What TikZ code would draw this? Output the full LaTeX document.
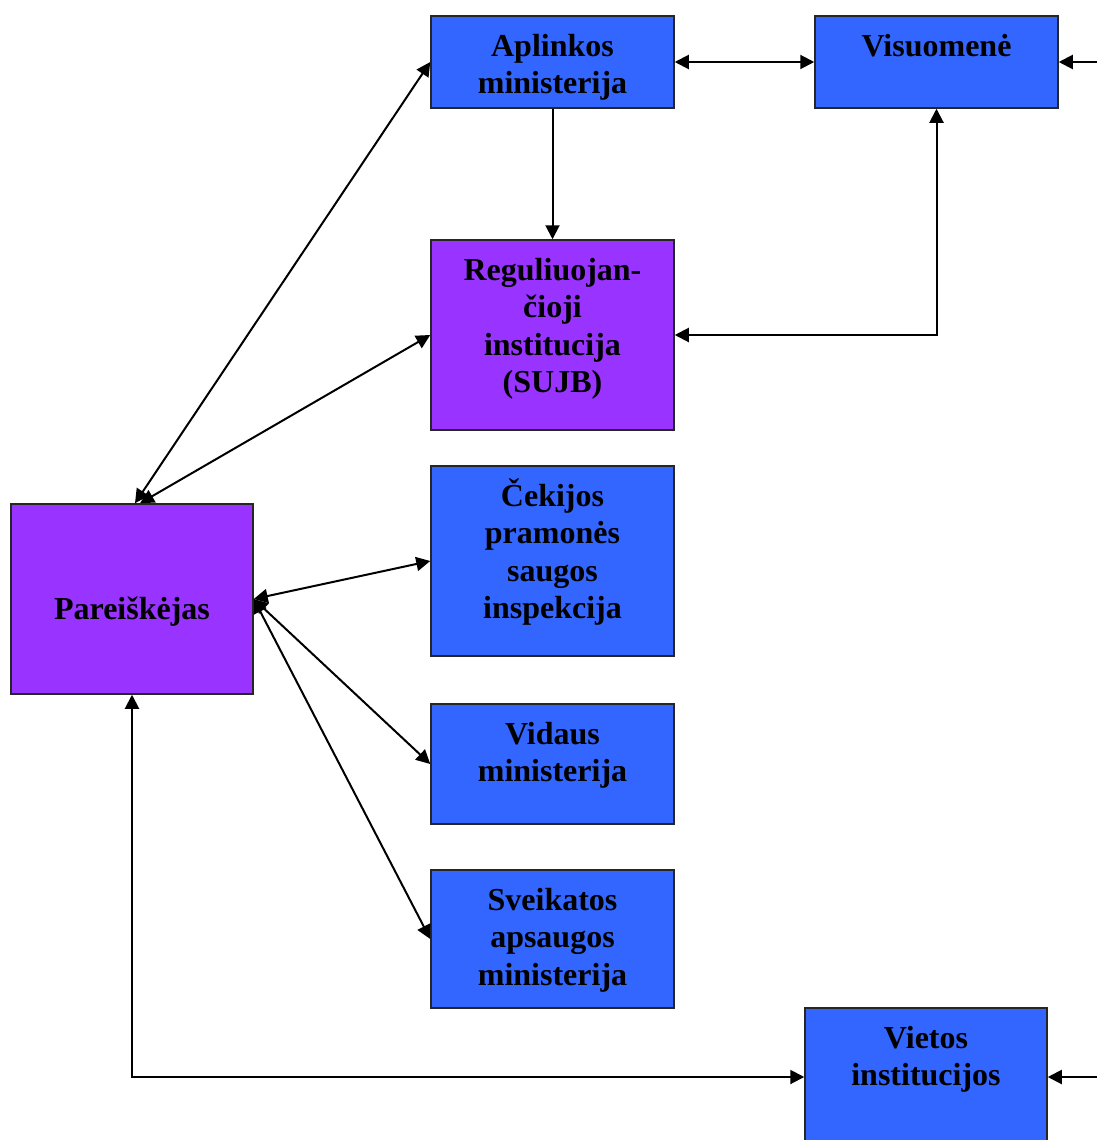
\documentclass[tikz,border=0pt]{standalone}
\usepackage{fontspec}
\setmainfont{Liberation Serif}
\usetikzlibrary{arrows.meta}
\definecolor{boxblue}{HTML}{3366FF}
\definecolor{boxpurple}{HTML}{9933FF}
\begin{document}
\begin{tikzpicture}[x=1pt,y=-1pt,
  box/.style={draw=black!85, line width=1.5pt, rectangle, inner sep=0pt, minimum width=243pt},
  bluebox/.style={box, fill=boxblue},
  purplebox/.style={box, fill=boxpurple},
  txt/.style={font=\fontsize{32}{37.5}\selectfont\bfseries, align=center, inner sep=0pt},
  tip/.tip={Triangle[length=14pt,width=14pt]},
  dbl/.style={line width=2pt, tip-tip},
  sgl/.style={line width=2pt, -tip}]
\clip (0,0) rectangle (1097,1140);
\fill[white] (0,0) rectangle (1097,1140);
% boxes
\node[bluebox, minimum height=92pt] (apl) at (552.5,62) {};
\node[bluebox, minimum height=92pt] (vis) at (936.5,62) {};
\node[purplebox, minimum height=190pt] (reg) at (552.5,335) {};
\node[purplebox, minimum width=242pt, minimum height=190pt] (par) at (132,599) {};
\node[bluebox, minimum height=190pt] (cek) at (552.5,561) {};
\node[bluebox, minimum height=120pt] (vid) at (552.5,764) {};
\node[bluebox, minimum height=138pt] (sve) at (552.5,939) {};
\node[bluebox, minimum width=242pt, minimum height=152pt] (vie) at (926,1084) {};
% texts
\node[txt, anchor=north] (aplT) at (552.5,24) {\rule{0pt}{32pt}Aplinkos\\ministerija};
\node[txt, anchor=north] (visT) at (936.5,24) {\rule{0pt}{32pt}Visuomenė};
\node[txt, anchor=north] (regT) at (552.5,248) {\rule{0pt}{32pt}Reguliuojan-\\čioji\\institucija\\(SUJB)};
\node[txt, anchor=north] (cekT) at (552.5,474) {\rule{0pt}{32pt}Čekijos\\pramonės\\saugos\\inspekcija};
\node[txt, anchor=north] (vidT) at (552.5,712) {\rule{0pt}{32pt}Vidaus\\ministerija};
\node[txt, anchor=north] (sveT) at (552.5,878) {\rule{0pt}{32pt}Sveikatos\\apsaugos\\ministerija};
\node[txt, anchor=north] (vieT) at (926,1016) {\rule{0pt}{32pt}Vietos\\institucijos};
\node[txt, anchor=base] (parT) at (132,619) {Pareiškėjas};
% connectors
\coordinate (r1) at (1097,62);
\coordinate (r2) at (1097,1077);
\draw[dbl] (apl.east) -- (vis.west);
\draw[sgl] (r1) -- (vis.east);
\draw[sgl] (apl.south) -- (reg.north);
\draw[dbl] (vis.south) |- (reg.east);
\draw[dbl] ([xshift=3pt]par.north) -- (apl.west);
\draw[dbl] ([xshift=8pt]par.north) -- (reg.west);
\draw[dbl] (par.east) -- (cek.west);
\draw[dbl] (par.east) -- (vid.west);
\draw[dbl] (par.east) -- (sve.west);
\draw[dbl] (par.south) |- ([yshift=7pt]vie.west);
\draw[sgl] (r2) -- ([yshift=7pt]vie.east);
\end{tikzpicture}
\end{document}
